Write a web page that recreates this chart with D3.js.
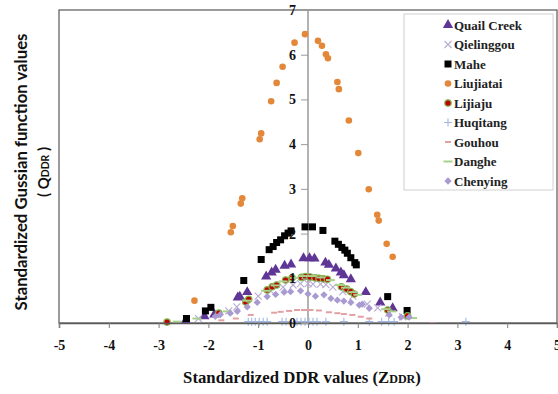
<!DOCTYPE html>
<html>
<head>
<meta charset="utf-8">
<script src="https://cdn.jsdelivr.net/npm/d3@7"></script>
<style>
  html, body { margin: 0; padding: 0; background: #fff; }
  svg { display: block; }
</style>
</head>
<body>
<svg id="chart" width="558" height="394"></svg>
<script>
// Standardized DDR values (Z) and Gaussian function values (Q) per basin
const quailCreek = [[-2.46,0.05],[-2.08,0.15],[-1.88,0.19],[-1.41,0.57],[-1.37,0.59],[-1.22,0.69],[-0.84,1.04],[-0.73,1.13],[-0.65,1.19],[-0.47,1.28],[-0.34,1.31],[-0.09,1.45],[0.03,1.45],[0.13,1.44],[0.35,1.35],[0.42,1.30],[0.56,1.22],[0.66,1.13],[0.72,1.07],[0.86,0.98],[1.16,0.69],[1.45,0.46],[1.70,0.33]];
const qielinggou = [[-2.20,0.10],[-1.59,0.27],[-1.43,0.36],[-1.00,0.60],[-0.75,0.72],[-0.50,0.80],[-0.30,0.85],[-0.15,0.88],[0.00,0.88],[0.10,0.87],[0.25,0.87],[0.36,0.86],[0.50,0.80],[0.70,0.70],[0.90,0.60],[1.19,0.42],[1.40,0.34],[1.62,0.22],[1.90,0.14]];
const mahe = [[-2.44,0.10],[-2.06,0.27],[-1.95,0.35],[-1.29,0.95],[-0.94,1.42],[-0.78,1.64],[-0.70,1.71],[-0.63,1.80],[-0.55,1.86],[-0.47,1.95],[-0.40,2.01],[-0.34,2.06],[-0.06,2.15],[0.09,2.15],[0.30,2.07],[0.54,1.83],[0.61,1.76],[0.68,1.69],[0.74,1.63],[0.79,1.56],[0.86,1.46],[0.94,1.35],[0.97,1.30],[1.60,0.59],[1.99,0.28]];
const liujiatai = [[-2.28,0.50],[-1.55,2.03],[-1.51,2.17],[-1.35,2.67],[-1.32,2.79],[-0.97,4.11],[-0.94,4.24],[-0.74,4.96],[-0.63,5.37],[-0.51,5.73],[-0.27,6.27],[-0.06,6.46],[0.20,6.31],[0.28,6.20],[0.36,6.01],[0.40,5.92],[0.59,5.39],[0.62,5.23],[0.82,4.53],[1.01,3.80],[1.22,2.99],[1.39,2.42],[1.42,2.29],[1.58,1.77],[1.70,1.48]];
const lijiaju = [[-2.83,0.02],[-1.79,0.22],[-1.25,0.47],[-1.19,0.53],[-0.82,0.74],[-0.72,0.81],[-0.63,0.85],[-0.45,0.96],[-0.32,1.01],[-0.13,1.02],[-0.05,1.04],[0.04,1.03],[0.14,1.01],[0.22,1.00],[0.31,0.99],[0.39,0.98],[0.67,0.81],[0.78,0.76],[0.86,0.70],[0.93,0.65],[1.60,0.29],[2.00,0.16]];
const huqitang = [[-1.20,0.03],[-1.13,0.03],[-1.06,0.03],[-0.98,0.03],[-0.90,0.03],[-0.82,0.03],[-0.52,0.03],[-0.44,0.03],[-0.22,0.03],[-0.14,0.03],[-0.06,0.03],[0.02,0.03],[0.10,0.03],[0.18,0.03],[0.36,0.03],[0.72,0.03],[1.23,0.03],[1.48,0.03],[1.62,0.03],[1.73,0.03],[3.17,0.03]];
const gouhou = [[-1.74,0.06],[-1.45,0.10],[-1.15,0.18],[-0.68,0.23],[-0.55,0.25],[-0.38,0.27],[-0.22,0.29],[-0.08,0.29],[0.05,0.29],[0.22,0.28],[0.42,0.24],[0.59,0.22],[0.72,0.20],[0.89,0.18],[1.06,0.14],[1.23,0.10],[2.50,0.00]];
const danghe = [[-2.63,0.03],[-2.23,0.10],[-1.62,0.26],[-1.22,0.50],[-0.85,0.72],[-0.66,0.84],[-0.50,0.93],[-0.28,1.01],[-0.10,1.05],[0.08,1.05],[0.26,1.02],[0.45,0.96],[0.63,0.85],[0.75,0.79],[0.90,0.69],[1.00,0.63],[1.56,0.31],[1.68,0.26],[2.10,0.11]];
const chenying = [[-1.86,0.15],[-1.76,0.19],[-1.56,0.22],[-1.42,0.26],[-1.22,0.36],[-1.02,0.46],[-0.82,0.59],[-0.65,0.64],[-0.48,0.69],[-0.35,0.70],[-0.15,0.72],[0.00,0.65],[0.15,0.60],[0.32,0.63],[0.46,0.55],[0.59,0.51],[0.72,0.49],[0.86,0.46],[1.03,0.40],[1.09,0.42],[1.23,0.33],[1.63,0.18],[1.87,0.13],[2.03,0.13]];

const seriesNames = ["Quail Creek","Qielinggou","Mahe","Liujiatai","Lijiaju","Huqitang","Gouhou","Danghe","Chenying"];
const xTicks = [-5,-4,-3,-2,-1,0,1,2,3,4,5];
const yTicks = [0,1,2,3,4,5,6,7];

// marker styles per series
const styles = {
  "Quail Creek": {shape: "triangle", fill: "#5f3596", stroke: "none", size: 46},
  "Qielinggou":  {shape: "cross",    fill: "none",    stroke: "#b7abd3", size: 7},
  "Mahe":        {shape: "square",   fill: "#000000", stroke: "none", size: 7},
  "Liujiatai":   {shape: "circle",   fill: "#e3883a", stroke: "none", size: 3.3},
  "Lijiaju":     {shape: "circle",   fill: "#c00000", stroke: "#7fb64e", size: 3.2},
  "Huqitang":    {shape: "plus",     fill: "none",    stroke: "#9fb7e2", size: 8},
  "Gouhou":      {shape: "dash",     fill: "#e3a0a3", stroke: "none", size: 6},
  "Danghe":      {shape: "dash",     fill: "#a9d18e", stroke: "none", size: 9},
  "Chenying":    {shape: "diamond",  fill: "#a99bd2", stroke: "none", size: 34}
};
const seriesData = {
  "Quail Creek": quailCreek, "Qielinggou": qielinggou, "Mahe": mahe,
  "Liujiatai": liujiatai, "Lijiaju": lijiaju, "Huqitang": huqitang,
  "Gouhou": gouhou, "Danghe": danghe, "Chenying": chenying
};

const svg = d3.select("#chart");
const x = d3.scaleLinear().domain([-5, 5]).range([59, 557]);
const y = d3.scaleLinear().domain([0, 7]).range([323, 10]);

// plot frame
svg.append("rect")
  .attr("x", x(-5)).attr("y", y(7))
  .attr("width", x(5) - x(-5)).attr("height", y(0) - y(7))
  .attr("fill", "none").attr("stroke", "#595959").attr("stroke-width", 1.2);

// vertical axis through zero
svg.append("line")
  .attr("x1", x(0)).attr("x2", x(0)).attr("y1", y(7)).attr("y2", y(0))
  .attr("stroke", "#9a9a9a").attr("stroke-width", 1.5);

function drawMarker(g, name, cx, cy) {
  const s = styles[name];
  if (s.shape === "triangle") {
    g.append("path").attr("d", d3.symbol(d3.symbolTriangle, s.size)())
      .attr("transform", `translate(${cx},${cy})`).attr("fill", s.fill);
  } else if (s.shape === "diamond") {
    const r = Math.sqrt(s.size) / 1.6;
    g.append("path").attr("d", `M0,${-r}L${r},0L0,${r}L${-r},0Z`)
      .attr("transform", `translate(${cx},${cy})`).attr("fill", s.fill);
  } else if (s.shape === "square") {
    g.append("rect").attr("x", cx - s.size / 2).attr("y", cy - s.size / 2)
      .attr("width", s.size).attr("height", s.size).attr("fill", s.fill);
  } else if (s.shape === "circle") {
    g.append("circle").attr("cx", cx).attr("cy", cy).attr("r", s.size)
      .attr("fill", s.fill).attr("stroke", s.stroke).attr("stroke-width", s.stroke === "none" ? 0 : 1.2);
  } else if (s.shape === "cross") {
    const r = s.size / 2;
    g.append("path").attr("d", `M${cx-r},${cy-r}L${cx+r},${cy+r}M${cx-r},${cy+r}L${cx+r},${cy-r}`)
      .attr("stroke", s.stroke).attr("stroke-width", 1.1).attr("fill", "none");
  } else if (s.shape === "plus") {
    const r = s.size / 2;
    g.append("path").attr("d", `M${cx-r},${cy}L${cx+r},${cy}M${cx},${cy-r}L${cx},${cy+r}`)
      .attr("stroke", s.stroke).attr("stroke-width", 1.1).attr("fill", "none");
  } else if (s.shape === "dash") {
    g.append("rect").attr("x", cx - s.size / 2).attr("y", cy - 1)
      .attr("width", s.size).attr("height", 2).attr("fill", s.fill);
  }
}

// scatter series
const plot = svg.append("g");
seriesNames.forEach(name => {
  const g = plot.append("g").attr("class", "series");
  seriesData[name].forEach(([z, q]) => drawMarker(g, name, x(z), y(q)));
});

// x axis
const xAxis = svg.append("g")
  .attr("transform", `translate(0,${y(0)})`)
  .call(d3.axisBottom(x).tickValues(xTicks).tickSize(5).tickPadding(12).tickFormat(d => String(d)));
xAxis.select(".domain").attr("stroke", "#595959").attr("stroke-width", 1.5);
xAxis.selectAll(".tick line").attr("stroke", "#7f7f7f");
xAxis.selectAll("text")
  .attr("font-family", "Liberation Serif, serif").attr("font-weight", "bold")
  .attr("font-size", 14).attr("fill", "#111");

// y axis
const yAxis = svg.append("g")
  .attr("transform", `translate(${x(0)},0)`)
  .call(d3.axisLeft(y).tickValues(yTicks).tickSize(7).tickPadding(5).tickFormat(d => String(d)));
yAxis.select(".domain").remove();
yAxis.selectAll(".tick line").attr("stroke", "#9a9a9a");
yAxis.selectAll("text")
  .attr("font-family", "Liberation Serif, serif").attr("font-weight", "bold")
  .attr("font-size", 14).attr("fill", "#111");

// legend
const legend = svg.append("g");
legend.append("rect").attr("x", 404).attr("y", 14).attr("width", 149).attr("height", 176)
  .attr("fill", "#fff").attr("stroke", "#d0d0d0").attr("stroke-width", 1);
seriesNames.forEach((name, i) => {
  const cy = 25 + i * 19.5;
  drawMarker(legend, name, 448, cy);
  legend.append("text").attr("x", 454).attr("y", cy).attr("dy", "0.35em")
    .attr("font-family", "Liberation Serif, serif").attr("font-weight", "bold")
    .attr("font-size", 13).attr("fill", "#222").text(name);
});

// fit a text element to a target width by adjusting font size
function fitWidth(sel, target) {
  const fs = parseFloat(sel.attr("font-size"));
  const w = sel.node().getComputedTextLength();
  sel.attr("font-size", fs * target / w);
}

// x title
const xt = svg.append("text").attr("x", 302).attr("y", 383).attr("text-anchor", "middle")
  .attr("font-family", "Liberation Serif, serif").attr("font-weight", "bold")
  .attr("font-size", 18).attr("fill", "#111");
xt.append("tspan").text("Standardized DDR values (Z");
xt.append("tspan").attr("font-size", "0.72em").text("DDR");
xt.append("tspan").text(")");
fitWidth(xt, 238);

// y title
const yt1 = svg.append("text")
  .attr("transform", "translate(27,172) rotate(-90)").attr("text-anchor", "middle")
  .attr("font-family", "Lato, sans-serif").attr("font-weight", "bold")
  .attr("font-size", 16).attr("fill", "#111").text("Standardized Gussian function values");
fitWidth(yt1, 277);
const yt2 = svg.append("text")
  .attr("transform", "translate(49,172) rotate(-90)").attr("text-anchor", "middle")
  .attr("font-family", "Lato, sans-serif").attr("font-weight", "bold")
  .attr("font-size", 16).attr("fill", "#111");
yt2.append("tspan").text("( Q");
yt2.append("tspan").attr("font-size", "0.7em").text("DDR");
yt2.append("tspan").text(" )");
fitWidth(yt2, 50);
</script>
</body>
</html>
